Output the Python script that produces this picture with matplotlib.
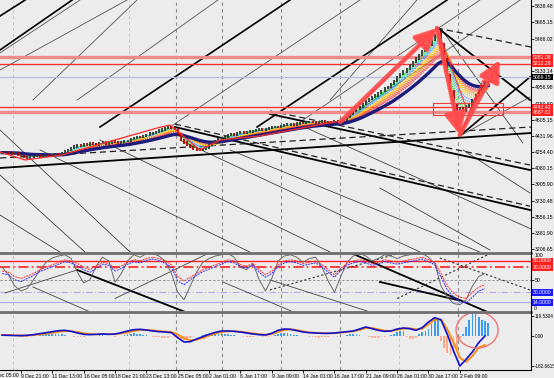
import numpy as np
import pandas as pd
import matplotlib
matplotlib.use("Agg")
import matplotlib.pyplot as plt
from matplotlib.patches import Ellipse, Rectangle
from matplotlib.lines import Line2D
from matplotlib.transforms import blended_transform_factory

plt.rcParams['font.family'] = ['Liberation Sans', 'DejaVu Sans']
FS = 3.7

# ---- data (H4 bars, bar index 0 = "9 Dec 21:00") ----
first_bar = -6
closes = [4250, 4255, 4240, 4232, 4245, 4228, 4215, 4200, 4195, 4205,
          4212, 4220, 4208, 4215, 4225, 4218, 4222, 4230, 4226, 4240,
          4262, 4280, 4300, 4318, 4332, 4325, 4340, 4335, 4350, 4346,
          4338, 4352, 4360, 4348, 4356, 4370, 4362, 4358, 4366, 4375,
          4380, 4395, 4410, 4422, 4418, 4432, 4445, 4458, 4465, 4478,
          4490, 4502, 4515, 4528, 4520, 4505, 4440, 4390, 4360, 4330,
          4310, 4296, 4285, 4280, 4292, 4305, 4330, 4352, 4370, 4392,
          4408, 4425, 4440, 4452, 4448, 4460, 4470, 4466, 4475, 4480,
          4488, 4495, 4502, 4498, 4510, 4518, 4525, 4532, 4528, 4540,
          4548, 4556, 4560, 4552, 4565, 4575, 4570, 4580, 4586, 4578,
          4572, 4580, 4590, 4585, 4578, 4575, 4588, 4596, 4600, 4610,
          4640, 4672, 4705, 4720, 4748, 4780, 4810, 4835, 4852, 4870,
          4895, 4920, 4948, 4965, 4990, 5030, 5070, 5105, 5130, 5160,
          5195, 5232, 5270, 5310, 5350, 5385, 5420, 5470, 5520, 5560,
          5430, 5260, 5090, 4920, 4760, 4720, 4735, 4700, 4750, 4770,
          4820, 4870, 4915, 4960, 5010, 5050]

# indicator samples, every 2 bars from -6 to 148
rsi_red = [64, 62, 55, 52, 56, 60, 66, 70, 74, 78,
           82, 80, 76, 70, 66, 72, 78, 76, 68, 72,
           78, 82, 80, 84, 86, 84, 80, 74, 55, 48,
           54, 60, 66, 70, 74, 78, 82, 80, 74, 72,
           76, 66, 58, 64, 74, 80, 82, 80, 76, 78,
           80, 74, 66, 58, 68, 76, 80, 82, 80, 76,
           78, 82, 80, 78, 80, 82, 84, 86, 82, 78,
           60, 40, 28, 22, 20, 30, 38, 42]
rsi_blue = [60, 58, 50, 47, 52, 57, 63, 67, 71, 75,
            79, 77, 72, 66, 62, 68, 75, 73, 64, 68,
            75, 79, 77, 81, 83, 81, 76, 70, 48, 42,
            50, 57, 63, 67, 71, 75, 79, 77, 71, 69,
            73, 62, 54, 60, 71, 77, 79, 77, 73, 75,
            77, 71, 62, 54, 65, 73, 77, 79, 77, 73,
            75, 79, 77, 75, 77, 79, 81, 83, 79, 74,
            54, 34, 22, 15, 13, 22, 32, 36]
stoch_gray = [70, 58, 40, 32, 36, 50, 65, 78, 85, 88,
              90, 84, 62, 45, 50, 72, 86, 80, 46, 60,
              80, 90, 86, 92, 92, 88, 80, 60, 30, 18,
              40, 62, 78, 84, 88, 90, 92, 86, 70, 66,
              76, 50, 32, 52, 80, 88, 90, 86, 78, 84,
              86, 70, 48, 30, 55, 78, 88, 92, 88, 80,
              84, 90, 88, 84, 88, 90, 92, 92, 86, 76,
              40, 22, 12, 10, 18, 40, 55, 60]
macd_main = [5, 4, 3, 2, 4, 8, 14, 20, 26, 32,
             34, 28, 18, 10, 8, 10, 12, 10, 12, 20,
             30, 38, 40, 36, 30, 26, 24, 20, -10, -36,
             -34, -18, -4, 10, 22, 30, 30, 28, 24, 18,
             12, 8, 6, 16, 34, 42, 40, 32, 24, 20,
             18, 16, 16, 18, 22, 26, 30, 42, 54, 44,
             34, 28, 30, 42, 48, 44, 34, 50, 84, 110,
             96, 10, -90, -180, -140, -96, -40, 0]
macd_signal = [6, 5, 4, 3, 3, 5, 9, 14, 19, 25,
               29, 29, 24, 17, 12, 10, 11, 11, 11, 15,
               22, 30, 36, 37, 34, 30, 27, 24, 10, -14,
               -26, -22, -12, 2, 14, 24, 28, 29, 26, 21,
               16, 11, 8, 11, 24, 36, 40, 36, 28, 22,
               19, 17, 16, 17, 20, 24, 28, 36, 48, 48,
               40, 32, 30, 36, 44, 46, 40, 44, 70, 98,
               100, 40, -40, -130, -156, -120, -70, -54]
# histogram, one value per bar
macd_hist = [0, 0, 2, 3, 2, 0,
             -3, -5, -4, -2, 0, 3, 5, 8, 10, 12,
             14, 15, 12, 10, 6, 3, 0, -3, -5, -6,
             -4, -2, 0, 2, 3, 5, 4, 2, 0, -2,
             -3, -1, 3, 6, 10, 14, 16, 15, 12, 8,
             4, 0, -3, -6, -8, -10, -12, -10, -8, -12,
             -20, -24, -22, -18, -12, -6, -2, 2, 6, 10,
             14, 18, 20, 18, 16, 14, 10, 6, 4, 2,
             0, -3, -5, -6, -4, -2, 0, -3, -6, -4,
             0, 6, 12, 16, 18, 16, 12, 8, 4, 2,
             0, -2, -4, -6, -8, -10, -8, -6, -4, -2,
             0, -3, -2, 3, 6, 10, 12, 10, 6, 2,
             -2, -6, -10, -14, -12, -8, -6, -2, 4, 10,
             22, 30, 28, -8, -16, -20, -12, 10, 24, 30,
             40, 70, 100, 110, -30, -70, -100, -114, -100, -80,
             -20, 12, 54, 96, 138, 130, 114, 96, 90, 80]

time_ticks = list(range(-10, 141, 10))
time_labels = ["5 Dec 05:00", "9 Dec 21:00", "11 Dec 13:00", "16 Dec 05:00",
               "18 Dec 21:00", "23 Dec 13:00", "25 Dec 05:00", "2 Jan 01:00",
               "6 Jan 17:00", "9 Jan 09:00", "14 Jan 01:00", "16 Jan 17:00",
               "21 Jan 09:00", "26 Jan 01:00", "30 Jan 17:00", "2 Feb 09:00"]
price_labels = ["5838.48", "5665.15", "5486.02", "5133.14", "4956.98", "4780.80",
                "4605.15", "4431.96", "4254.40", "4080.15", "3905.90", "3730.48",
                "3556.15", "3381.90", "3206.65"]
macd_labels = ["119.5304", "0.00", "-182.6615"]

# horizontal levels
levels_red = [5281.08, 5212.28, 4742.43, 4687.61]
last_price = 5069.15

# trend lines: (bar0, price0, bar1, price1)
up_thick = [(-6.7, 5730, 1.3, 5903), (-6.7, 5362, 16.3, 5903), (25.2, 4528, 85.8, 5903),
            (75.3, 4528, 135.9, 5903), (140.0, 4431, 162.4, 5070)]
up_thin = [(-6.7, 5330, 18.8, 5903), (-6.7, 5145, 33.8, 5903), (3.8, 4820, 37.0, 5903),
           (17.9, 4820, 62.8, 5903), (47.5, 4528, 108.1, 5903), (89.0, 4582, 146.4, 5903),
           (98.6, 4820, 126.3, 5903), (103.3, 4604, 159.2, 5903), (140.0, 4431, 162.4, 4853)]
down_thin = [(-6.7, 4496, 34.8, 3174), (-6.7, 4008, 20.4, 3174), (-6.7, 3575, 12.4, 3174),
             (6.1, 4279, 73.0, 3174), (25.2, 4387, 98.6, 3174), (50.7, 4387, 127.3, 3174),
             (66.7, 4279, 146.4, 3174), (89.0, 4550, 162.7, 3424), (114.5, 3867, 149.6, 3196),
             (141.0, 4279, 162.4, 3813), (134.3, 5578, 160.1, 4355)]
long_thick = [(133.0, 5600, 162.4, 4820), (49.1, 4528, 162.4, 3629),
              (79.4, 4669, 162.4, 4062), (-6.7, 4084, 162.7, 4463)]
long_dashed = [(132.7, 5600, 162.7, 5394), (49.1, 4560, 162.4, 3670),
               (79.4, 4702, 162.4, 4116), (-6.7, 4192, 162.7, 4528)]
zigzag_bar = [-6.7, 1.3, 13.1, 43.4, 47.5, 57.1, 63.5, 76.2, 103.3, 132.7, 140.0, 148.0]
zigzag_price = [4257, 4171, 4225, 4517, 4550, 4279, 4387, 4431, 4604, 5600, 4431, 5037]
red_fan = [(132.7, 5600, 138.4, 4712), (132.7, 5600, 140.0, 4528), (132.7, 5600, 142.3, 4712),
           (140.0, 4431, 147.4, 5037), (140.0, 4431, 145.0, 4860)]
arrows = [(101.8, 4582, 132.7, 5600), (132.7, 5600, 140.0, 4442), (140.0, 4442, 152.8, 5254)]
box_zone = (131.4, 4658, 153.7, 4788)

rsi_thick = [(17.9, 65.7, 52.3, -1.4), (105.3, 92.8, 148.7, -1.4), (114.5, 46.5, 139.1, 17.7)]
rsi_thin = [(3.8, 38.5, 22.0, -1.4), (64.4, 46.5, 86.8, -1.4), (79.4, 49.7, 111.3, -1.4),
            (-5.1, 28.9, 17.9, 65.7), (30.0, 20.0, 60.0, 92.8)]
rsi_dotted = [(133.6, 84.8, 162.4, 33.7), (79.4, 33.7, 120.9, 92.8), (120.0, 20.0, 150.0, 92.8)]

sep_light = [-2.6, 34.4, 120.6]
sep_dark = [49.4, 64.1, 82.9, 101.8, 139.4]

# ---- figure ----
BG = '#ececec'
W, H = 554, 378
fig = plt.figure(figsize=(W / 100, H / 100), dpi=100, facecolor=BG)


def px_axes(top, bottom):
    return fig.add_axes([0, 1 - bottom / H, 531 / W, (bottom - top) / H])


ax = px_axes(0, 252)
ax_rsi = px_axes(253, 311)
ax_macd = px_axes(313, 370)

bars = np.arange(first_bar, first_bar + len(closes))
ind_x = np.arange(-6, 149, 2)

for a in (ax, ax_rsi, ax_macd):
    a.set_facecolor(BG)
    a.set_xlim(-6.7, 162.7)
    for s in a.spines.values():
        s.set_visible(False)
    a.yaxis.tick_right()
    a.tick_params(axis='y', labelsize=FS, length=2, pad=1, width=0.6)
    a.tick_params(axis='x', length=0, labelbottom=False)
    for xv in sep_light:
        a.axvline(xv, color='#c4c4c4', lw=0.7, ls=(0, (3, 3)), zorder=0)
    for xv in sep_dark:
        a.axvline(xv, color='#8a8a8a', lw=0.8, ls=(0, (3, 3)), zorder=0)


def segs(axis, rows, **kw):
    for b0, v0, b1, v1 in rows:
        axis.plot([b0, b1], [v0, v1], **kw)


# main panel
ax.set_ylim(3174.3, 5903.5)
ax.set_yticks([float(s) for s in price_labels])
ax.set_yticklabels(price_labels)

segs(ax, up_thin, color='#555555', lw=0.6, zorder=1)
segs(ax, down_thin, color='#333333', lw=0.55, zorder=1)
segs(ax, up_thick, color='black', lw=1.2, zorder=1)
segs(ax, long_thick, color='black', lw=1.3, zorder=1)
segs(ax, long_dashed, color='#222222', lw=0.9, ls=(0, (5, 3)), zorder=1)

ax.axhline(levels_red[0], color='#f08a8a', lw=2.4, zorder=2)
ax.axhline(levels_red[1], color='#ff3333', lw=1.0, zorder=2)
ax.axhline(levels_red[2], color='#ff3333', lw=1.0, zorder=2)
ax.axhline(levels_red[3], color='#f08a8a', lw=2.4, zorder=2)
ax.axhline(last_price, color='#b4bde0', lw=0.9, zorder=2)

s = pd.Series(closes, index=bars, dtype=float)
ribbon_spans = [3, 4, 5, 6, 7, 8, 9, 10, 11, 12, 13, 14, 15, 16]
ribbon_colors = ['#00d000', '#40dd40', '#00c8c8', '#40a0ff', '#6080ff', '#f0e000', '#ffd000',
                 '#ffb000', '#ff9a00', '#ff8000', '#ff6a40', '#ff5050', '#ff4070', '#ff3a3a']
for span, col in zip(ribbon_spans, ribbon_colors):
    ax.plot(bars, s.ewm(span=span, adjust=False).mean(), color=col, lw=0.8, ls=(0, (1, 1)), zorder=3)
ax.plot(bars, s.ewm(span=21, adjust=False).mean(), color='#1c1c7a', lw=2.4, zorder=4)

opens = np.r_[closes[0], closes[:-1]]
cl = np.array(closes)
up = cl >= opens
ax.vlines(bars[up], opens[up] - 12, cl[up] + 12, color='#2e3b3b', lw=1.3, zorder=5)
ax.vlines(bars[~up], cl[~up] - 12, opens[~up] + 12, color='#b00000', lw=1.3, zorder=5)

ax.plot(zigzag_bar, zigzag_price, color='#ff2a2a', lw=0.9, zorder=6)
segs(ax, red_fan, color='#ff2a2a', lw=0.7, zorder=6)
ax.add_patch(Rectangle((box_zone[0], box_zone[1]), box_zone[2] - box_zone[0],
                       box_zone[3] - box_zone[1], fill=False, ec='#e84040', lw=0.8, zorder=6))
for b0, p0, b1, p1 in arrows:
    ax.annotate('', xy=(b1, p1), xytext=(b0, p0), zorder=7,
                arrowprops=dict(arrowstyle='-|>,head_length=0.9,head_width=0.45',
                                mutation_scale=14, color='#ff4a4a', lw=3.2, alpha=0.9,
                                shrinkA=0, shrinkB=0))


def box_label(axis, y, text, fc):
    trans = blended_transform_factory(axis.transAxes, axis.transData)
    axis.text(1.004, y, text, transform=trans, fontsize=FS, color='white', va='center', ha='left',
              clip_on=False, zorder=20,
              bbox=dict(boxstyle='square,pad=0.15', fc=fc, ec='none'))


for v in levels_red:
    box_label(ax, v, f"{v:.2f}", '#ff2020')
box_label(ax, last_price, f"{last_price:.2f}", 'black')

# RSI / stochastic panel
ax_rsi.set_ylim(0, 92.8)
ax_rsi.set_yticks([50])
ax_rsi.set_yticklabels(['50'])
ax_rsi.axhline(80, color='#ff2020', lw=1.0)
ax_rsi.axhline(70, color='#ff2020', lw=1.2, ls=(0, (6, 2, 1, 2)))
ax_rsi.axhline(50, color='#8c8c8c', lw=0.6, ls=(0, (3, 2)))
ax_rsi.axhline(30, color='#b8a8e8', lw=0.8, ls=(0, (6, 2, 1, 2)))
ax_rsi.axhline(14, color='#a8b0f0', lw=0.8)
segs(ax_rsi, rsi_thick, color='black', lw=1.3)
segs(ax_rsi, rsi_thin, color='#444444', lw=0.6)
segs(ax_rsi, rsi_dotted, color='#333333', lw=0.8, ls=(0, (2, 2)))
ax_rsi.plot(ind_x, stoch_gray, color='#6a6a6a', lw=0.7)
ax_rsi.plot(ind_x, rsi_red, color='#ff2a2a', lw=0.7, ls=(0, (2, 1)))
ax_rsi.plot(ind_x, rsi_blue, color='#2a2aff', lw=0.7, ls=(0, (2, 1)))
ax_rsi.text(1.006, 0.965, '100', transform=ax_rsi.transAxes, fontsize=FS, va='center', clip_on=False)
ax_rsi.text(1.006, 0.05, '0', transform=ax_rsi.transAxes, fontsize=FS, va='center', clip_on=False)
box_label(ax_rsi, 80, '80.0000', '#ff2020')
box_label(ax_rsi, 70, '70.0000', '#ff2020')
box_label(ax_rsi, 30, '30.0000', '#1a1aff')
box_label(ax_rsi, 14, '14.0000', '#1a1aff')

# MACD panel
ax_macd.set_ylim(-204, 138)
ax_macd.set_yticks([float(v) for v in macd_labels])
ax_macd.set_yticklabels(macd_labels)
ax_macd.tick_params(axis='y', labelsize=3.3, pad=0.8)
hist = np.array(macd_hist)
ax_macd.bar(bars, hist, width=0.55, color=np.where(hist >= 0, '#3d9cf0', '#ffa788'), zorder=2)
ax_macd.plot(ind_x, macd_signal, color='#ff8c00', lw=1.3, zorder=3)
ax_macd.plot(ind_x, macd_main, color='#1010d0', lw=1.2, zorder=4)
ax_macd.add_patch(Ellipse((145.5, 36), 13.4, 216, fill=False, ec='#f07575', lw=1.0, zorder=5))

ax_macd.set_xticks(time_ticks[1:])
ax_macd.set_xticklabels(time_labels[1:], fontsize=FS, ha='left')
ax_macd.tick_params(axis='x', length=2, width=0.6, pad=1, labelbottom=True)
ax_macd.text(time_ticks[0] + 0.5, -0.05, time_labels[0], fontsize=FS, va='top', ha='left',
             transform=blended_transform_factory(ax_macd.transData, ax_macd.transAxes), clip_on=False)

# panel separators and frame
fig.add_artist(Line2D([0, 531 / W], [1 - 252.5 / H] * 2, color='#6e6e6e', lw=2))
fig.add_artist(Line2D([0, 531 / W], [1 - 312 / H] * 2, color='#6e6e6e', lw=2))
fig.add_artist(Line2D([0, 531 / W], [1 - 370 / H] * 2, color='black', lw=0.8))
fig.add_artist(Line2D([531 / W] * 2, [1 - 370 / H, 1], color='black', lw=0.8))

fig.savefig('out.png', dpi=100, facecolor=BG)
